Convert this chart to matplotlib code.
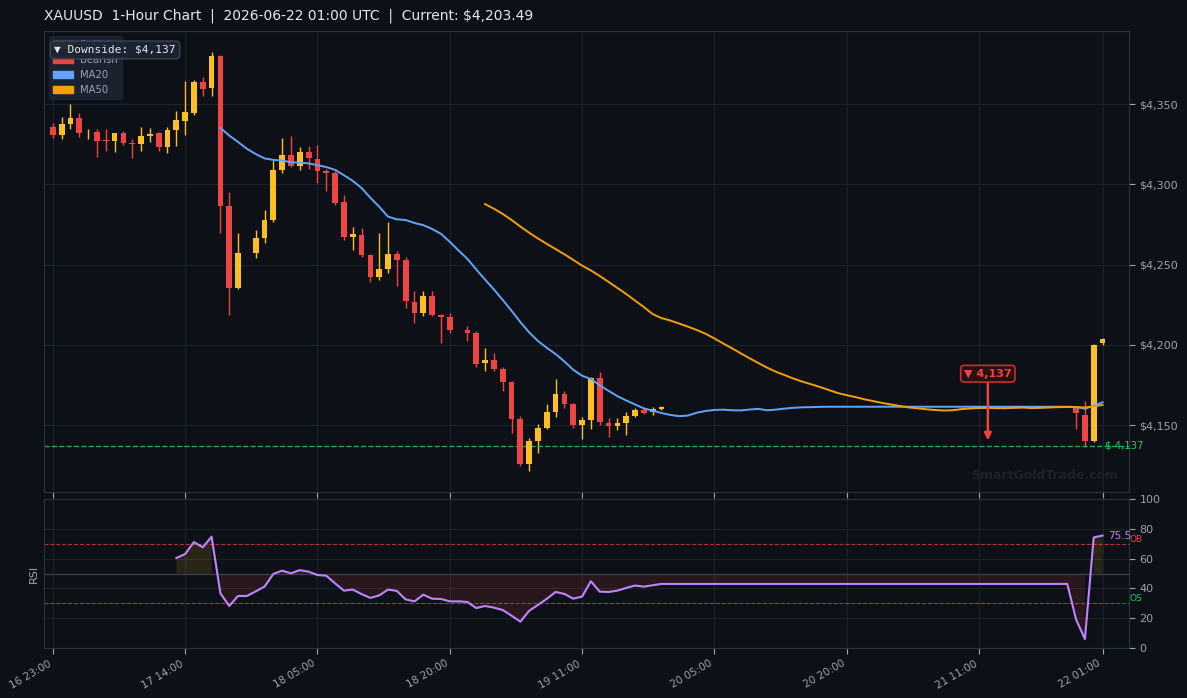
import numpy as np
import pandas as pd
import matplotlib
matplotlib.use("Agg")
import matplotlib.pyplot as plt
from matplotlib.patches import Patch
from matplotlib.ticker import FuncFormatter, MultipleLocator

# ---------------- data ----------------
opens = [
    4335.7, 4330.9, 4337.5, 4341.3, 4332.4, 4332.6, 4327.4, 4326.9, 4331.9, 4325.6,
    4325.1, 4330.3, 4331.9, 4323.4, 4333.8, 4339.4, 4344.4, 4363.7, 4360.0, 4379.9,
    4286.5, 4235.6, None, 4257.2, 4266.5, 4277.7, 4308.9, 4318.2, 4311.4, 4320.1,
    4315.7, 4308.3, 4307.0, 4289.1, 4267.3, 4268.4, 4255.9, 4242.4, 4247.4, 4256.5,
    4252.8, 4226.6, 4220.0, 4230.4, 4218.7, 4217.3, None, 4209.2, 4207.3, 4188.8,
    4190.7, 4184.9, 4176.8, 4153.7, 4125.7, 4140.0, 4148.1, 4158.1, 4169.3, 4163.1,
    4150.2, 4153.1, 4179.3, 4151.3, 4149.4, 4151.3, 4155.6, 4159.4, 4158.1, 4160.0,
    None, None, None, None, None, None, None, None, None, None,
    None, None, None, None, None, None, None, None, None, None,
    None, None, None, None, None, None, None, None, None, None,
    None, None, None, None, None, None, None, None, None, None,
    None, None, None, None, None, None, 4161.2, 4156.2, 4140.2, 4201.0,
]
highs = [
    4338.6, 4341.9, 4350.0, 4344.4, 4334.4, 4334.4, 4334.4, 4331.9, 4333.2, 4328.2,
    4335.7, 4335.0, 4332.5, 4335.7, 4345.6, 4364.3, 4365.0, 4366.8, 4382.6, 4380.5,
    4295.2, 4269.6, None, 4271.3, 4284.0, 4315.1, 4328.8, 4330.1, 4323.2, 4323.8,
    4324.4, 4309.5, 4308.3, 4293.3, 4273.4, 4272.7, 4256.5, 4269.6, 4276.5, 4258.4,
    4254.7, 4233.5, 4233.5, 4233.5, 4219.4, 4219.8, None, 4211.7, 4208.6, 4198.0,
    4194.9, 4186.0, 4177.4, 4155.6, 4141.9, 4150.6, 4163.1, 4178.7, 4171.2, 4163.6,
    4155.0, 4179.8, 4183.0, 4154.4, 4154.4, 4158.1, 4160.6, 4161.2, 4161.2, 4162.0,
    None, None, None, None, None, None, None, None, None, None,
    None, None, None, None, None, None, None, None, None, None,
    None, None, None, None, None, None, None, None, None, None,
    None, None, None, None, None, None, None, None, None, None,
    None, None, None, None, None, None, 4161.6, 4165.0, 4200.6, 4204.2,
]
lows = [
    4328.8, 4328.4, 4334.4, 4329.4, 4328.2, 4317.2, 4320.9, 4320.3, 4324.5, 4316.6,
    4320.9, 4326.5, 4320.9, 4319.7, 4324.0, 4330.9, 4343.1, 4355.2, 4355.2, 4269.6,
    4218.5, 4234.7, None, 4254.0, 4263.4, 4276.5, 4307.0, 4310.7, 4308.9, 4309.5,
    4300.8, 4296.0, 4287.3, 4265.3, 4259.0, 4254.7, 4239.3, 4240.6, 4244.9, 4236.8,
    4223.1, 4213.8, 4218.1, 4218.1, 4201.3, 4207.3, None, 4202.6, 4186.3, 4183.9,
    4183.9, 4171.4, 4145.2, 4124.4, 4121.3, 4132.8, 4147.5, 4155.2, 4160.8, 4148.3,
    4141.3, 4147.5, 4150.2, 4142.5, 4146.9, 4143.8, 4155.0, 4156.9, 4156.2, 4159.4,
    None, None, None, None, None, None, None, None, None, None,
    None, None, None, None, None, None, None, None, None, None,
    None, None, None, None, None, None, None, None, None, None,
    None, None, None, None, None, None, None, None, None, None,
    None, None, None, None, None, None, 4147.5, 4136.1, 4139.6, 4200.2,
]
closes = [
    4330.9, 4337.5, 4341.3, 4332.1, 4332.6, 4327.1, 4327.0, 4331.9, 4325.7, 4325.2,
    4330.1, 4331.3, 4323.4, 4333.8, 4340.0, 4345.0, 4363.7, 4359.3, 4379.9, 4286.7,
    4235.6, 4257.2, 4257.2, 4266.5, 4277.7, 4308.9, 4318.2, 4311.4, 4320.1, 4316.4,
    4308.3, 4307.4, 4288.5, 4267.3, 4269.0, 4255.9, 4242.4, 4247.2, 4256.5, 4253.0,
    4227.5, 4220.0, 4230.4, 4218.7, 4217.5, 4209.2, 4209.2, 4207.3, 4188.0, 4190.7,
    4184.9, 4177.0, 4153.9, 4125.7, 4140.0, 4148.1, 4158.1, 4169.3, 4163.1, 4150.2,
    4153.1, 4179.3, 4152.1, 4149.4, 4151.3, 4155.6, 4159.4, 4157.5, 4160.0, 4161.4,
    4161.4, 4161.4, 4161.4, 4161.4, 4161.4, 4161.4, 4161.4, 4161.4, 4161.4, 4161.4,
    4161.4, 4161.4, 4161.4, 4161.4, 4161.4, 4161.4, 4161.4, 4161.4, 4161.4, 4161.4,
    4161.4, 4161.4, 4161.4, 4161.4, 4161.4, 4161.4, 4161.4, 4161.4, 4161.4, 4161.4,
    4161.4, 4161.4, 4161.4, 4161.4, 4161.4, 4161.4, 4161.4, 4161.4, 4161.4, 4161.4,
    4161.4, 4161.4, 4161.4, 4161.4, 4161.4, 4161.4, 4157.7, 4140.2, 4199.8, 4203.49,
]
rsi_values = [
    None, None, None, None, None, None, None, None, None, None,
    None, None, None, None, 60.4, 63.1, 71.1, 67.6, 74.7, 36.7,
    28.2, 34.9, 34.9, 38.0, 41.2, 49.7, 51.9, 50.1, 52.3, 51.2,
    49.0, 48.5, 43.4, 38.5, 39.2, 36.2, 33.6, 35.3, 39.2, 38.3,
    32.6, 31.3, 35.8, 33.1, 32.9, 31.3, 31.3, 30.9, 26.8, 28.2,
    27.1, 25.5, 21.7, 17.7, 25.0, 28.9, 33.0, 37.6, 36.3, 33.1,
    34.5, 44.8, 37.8, 37.6, 38.5, 40.3, 41.9, 41.2, 42.1, 43.0,
    43.0, 43.0, 43.0, 43.0, 43.0, 43.0, 43.0, 43.0, 43.0, 43.0,
    43.0, 43.0, 43.0, 43.0, 43.0, 43.0, 43.0, 43.0, 43.0, 43.0,
    43.0, 43.0, 43.0, 43.0, 43.0, 43.0, 43.0, 43.0, 43.0, 43.0,
    43.0, 43.0, 43.0, 43.0, 43.0, 43.0, 43.0, 43.0, 43.0, 43.0,
    43.0, 43.0, 43.0, 43.0, 43.0, 43.0, 19.2, 6.0, 74.2, 75.5,
]
tick_labels = ["16 23:00", "17 14:00", "18 05:00", "18 20:00", "19 11:00",
               "20 05:00", "20 20:00", "21 11:00", "22 01:00"]
support_level = 4137
current_price = 4203.49
title = "XAUUSD  1-Hour Chart  |  2026-06-22 01:00 UTC  |  Current: $4,203.49"

# ---------------- style ----------------
BG = "#0d1117"
GRID = "#1c222d"
SPINE = "#2a3340"
TXT = "#9ca3af"
BULL = "#fbbf24"
BEAR = "#ef4444"
MA20C = "#60a5fa"
MA50C = "#f59e0b"
RSIC = "#c084fc"
GREEN = "#22c55e"

n = len(closes)
x = np.arange(n)
o = np.array([np.nan if v is None else v for v in opens], dtype=float)
h = np.array([np.nan if v is None else v for v in highs], dtype=float)
l = np.array([np.nan if v is None else v for v in lows], dtype=float)
c = np.array(closes, dtype=float)
rsi = np.array([np.nan if v is None else v for v in rsi_values], dtype=float)
ma20 = pd.Series(c).rolling(20).mean().values
ma50 = pd.Series(c).rolling(50).mean().values

fig = plt.figure(figsize=(11.87, 6.98), dpi=100, facecolor=BG)
ax = fig.add_axes([44 / 1187, 1 - 492 / 698, 1085 / 1187, 461 / 698], facecolor=BG)
ax2 = fig.add_axes([44 / 1187, 1 - 648 / 698, 1085 / 1187, 149 / 698], facecolor=BG)

tick_pos = list(range(0, n, 15)) + [n - 1]

for a in (ax, ax2):
    for s in a.spines.values():
        s.set_color(SPINE)
    a.grid(True, color=GRID, lw=0.8)
    a.set_axisbelow(True)
    a.yaxis.tick_right()
    a.tick_params(colors=TXT, labelsize=8, length=4)
    a.set_xlim(-1, n + 2)
    a.set_xticks(tick_pos)

# ---------------- candles ----------------
vis = ~np.isnan(o)
bull = vis & (c >= o)
bear = vis & (c < o)
body_lo = np.fmin(o, c)
body_h = np.maximum(np.abs(c - o), 0.6)
for mask, col in ((bull, BULL), (bear, BEAR)):
    ax.vlines(x[mask], l[mask], h[mask], color=col, lw=1.0, zorder=2)
    ax.bar(x[mask], body_h[mask], 0.65, bottom=body_lo[mask], color=col, lw=0, zorder=2.5)

ax.plot(x, ma20, color=MA20C, lw=1.4, zorder=3)
ax.plot(x, ma50, color=MA50C, lw=1.4, zorder=3)

ax.axhline(support_level, color=GREEN, ls="--", lw=1.0, alpha=0.85, zorder=2)
ax.text(n - 1 + 0.3, support_level, f"$ {support_level:,.0f}", color=GREEN, fontsize=7.3,
        va="center", ha="left", clip_on=False, zorder=4)

lo, hi = np.nanmin(l), np.nanmax(h)
pad = 0.05 * (hi - lo)
ax.set_ylim(lo - pad, hi + pad)
ax.yaxis.set_major_locator(MultipleLocator(50))
ax.yaxis.set_major_formatter(FuncFormatter(lambda v, _: f"${v:,.0f}"))
ax.set_xticklabels([])

ax.annotate(f"\u25bc {support_level:,.0f}", xy=(n - 14, support_level), xytext=(n - 14, 4182),
            ha="center", va="center", color=BEAR, fontsize=8, fontweight="bold",
            bbox=dict(boxstyle="round,pad=0.3", fc="#2a0e12", ec="#c53030", lw=1.2),
            arrowprops=dict(arrowstyle="-|>", color=BEAR, lw=1.8, shrinkA=0, shrinkB=4,
                            mutation_scale=10),
            zorder=6)

ax.text(0.922, 0.035, "SmartGoldTrade.com", transform=ax.transAxes, ha="center", va="center",
        fontsize=9, fontweight="bold", color="#1b212b", zorder=1)

handles = [Patch(fc=BULL, ec=BULL, label="Bullish"), Patch(fc=BEAR, ec=BEAR, label="Bearish"),
           Patch(fc=MA20C, ec=MA20C, label="MA20"), Patch(fc=MA50C, ec=MA50C, label="MA50")]
leg = ax.legend(handles=handles, loc="upper left", fontsize=7.2, facecolor="#1b2332",
                edgecolor="#1b2332", framealpha=0.95, labelcolor=TXT,
                handletextpad=0.7, borderaxespad=0.5, bbox_to_anchor=(0.0, 1.0))
leg.set_zorder(5)

ax.text(0.0095, 0.959, f"\u25bc Downside: ${support_level:,.0f}", transform=ax.transAxes,
        ha="left", va="center", fontsize=8, family="DejaVu Sans Mono", color="#e5e7eb",
        bbox=dict(boxstyle="round,pad=0.35", fc="#1c2534", ec="#3b4656", lw=1.0, alpha=0.95),
        zorder=7)

# ---------------- RSI ----------------
ax2.set_ylim(0, 100)
ax2.set_yticks(range(0, 101, 20))
ax2.axhline(70, color=BEAR, ls="--", lw=0.8, alpha=0.7)
ax2.axhline(30, color=GREEN, ls="--", lw=0.8, alpha=0.6)
ax2.axhline(50, color="#3a4250", lw=0.9)
ax2.fill_between(x, rsi, 50, where=rsi >= 50, color=BULL, alpha=0.12, lw=0)
ax2.fill_between(x, rsi, 50, where=rsi < 50, color=BEAR, alpha=0.12, lw=0)
ax2.plot(x, rsi, color=RSIC, lw=1.5, zorder=3)
last_rsi = rsi[-1]
ax2.text(n - 1 + 0.6, last_rsi, f"{last_rsi:.1f}", color=RSIC, fontsize=7.5, va="center",
         ha="left", clip_on=False)
ax2.text(1.0, 70, "OB", transform=ax2.get_yaxis_transform(), color=BEAR, fontsize=6.5,
         va="bottom", ha="left")
ax2.text(1.0, 30, "OS", transform=ax2.get_yaxis_transform(), color=GREEN, fontsize=6.5,
         va="bottom", ha="left")
ax2.set_ylabel("RSI", color=TXT, fontsize=8)
ax2.yaxis.set_label_position("left")
ax2.set_xticklabels(tick_labels, rotation=30, ha="right", fontsize=7.5)

fig.text(44 / 1187, 1 - 16 / 698, title, color="#e5e7eb", fontsize=10, ha="left", va="center")

fig.savefig("out.png", dpi=100, facecolor=BG)
